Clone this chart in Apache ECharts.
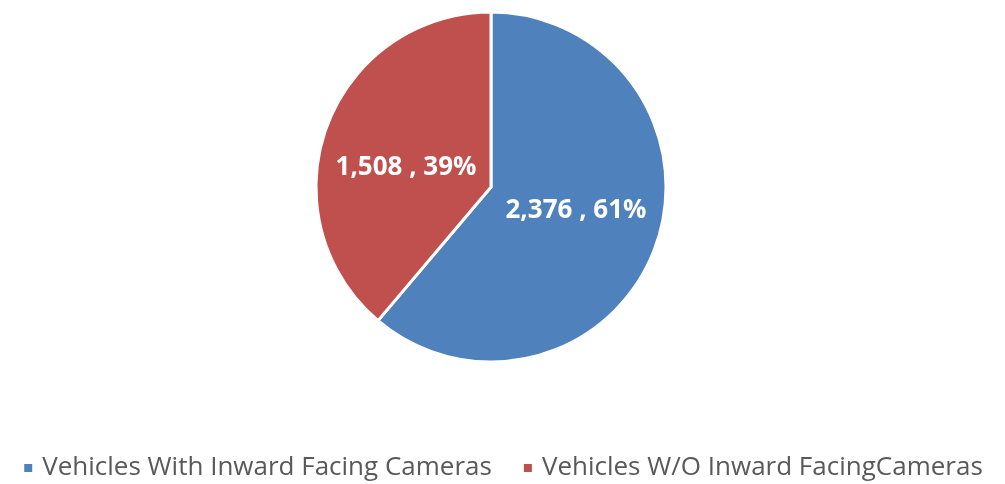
<!DOCTYPE html>
<html>
<head>
<meta charset="utf-8">
<script src="https://cdn.jsdelivr.net/npm/echarts@6/dist/echarts.min.js"></script>
<style>
  html, body { margin: 0; padding: 0; background: #fff; }
  #chart { width: 1005px; height: 484px; }
</style>
</head>
<body>
<div id="chart"></div>
<script>
// Vehicles with / without inward facing cameras
const categories = ['Vehicles With Inward Facing Cameras', 'Vehicles W/O Inward FacingCameras']
const counts = [2376, 1508]
const colors = ['#4F81BD', '#C0504D']

const chart = echarts.init(document.getElementById('chart'))
const total = counts.reduce((a, b) => a + b, 0)

function labelText(v) {
  return v.toLocaleString('en-US') + ' , ' + Math.round(v / total * 100) + '%'
}

chart.setOption({
  animation: false,
  legend: {
    top: 450,
    left: 'center',
    icon: 'rect',
    itemWidth: 10,
    itemHeight: 10,
    itemGap: 30,
    textStyle: {
      color: '#595959',
      fontSize: 26,
      fontFamily: 'Open Sans, sans-serif',
      padding: [0, 0, 0, 4]
    },
    data: categories
  },
  series: [
    {
      type: 'pie',
      center: [491, 187],
      radius: [0, 175],
      startAngle: 90,
      clockwise: true,
      itemStyle: { borderColor: '#fff', borderWidth: 3 },
      label: {
        show: true,
        position: 'inside',
        color: '#fff',
        fontSize: 26,
        fontWeight: 'bold',
        fontFamily: 'Open Sans, sans-serif'
      },
      labelLine: { show: false },
      data: [
        // blank line below moves the text up a little
        { name: categories[0], value: counts[0], itemStyle: { color: colors[0] },
          label: { lineHeight: 16, formatter: (p) => labelText(p.value) + '\n' } },
        // blank line above moves it down
        { name: categories[1], value: counts[1], itemStyle: { color: colors[1] },
          label: { lineHeight: 24, formatter: (p) => '\n' + labelText(p.value) } }
      ]
    }
  ]
})
</script>
</body>
</html>
